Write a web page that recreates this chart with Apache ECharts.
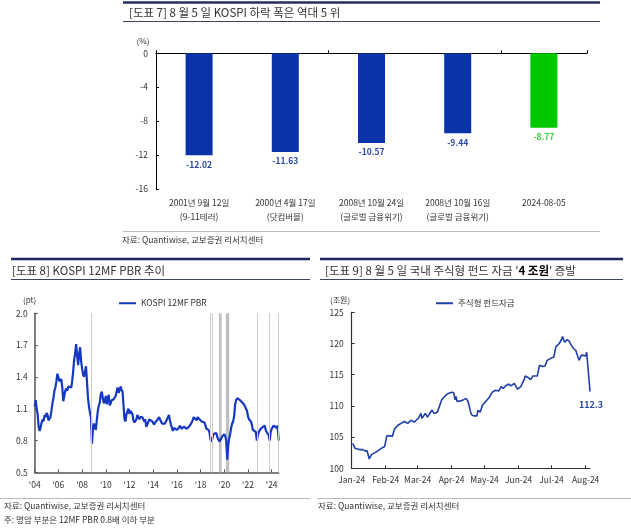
<!DOCTYPE html>
<html><head><meta charset="utf-8">
<script src="https://cdn.jsdelivr.net/npm/echarts@6/dist/echarts.min.js"></script>
<style>html,body{margin:0;padding:0;background:#fff}#c{width:631px;height:531px}</style>
</head><body><div id="c"></div>
<script>
// ---------- [도표 7] data ----------
const crashCategories = ['2001년 9월 12일\n(9-11테러)', '2000년 4월 17일\n(닷컴버블)', '2008년 10월 24일\n(글로벌 금융위기)', '2008년 10월 16일\n(글로벌 금융위기)', '2024-08-05'];
const crashValues = [-12.02, -11.63, -10.57, -9.44, -8.77];
const crashHighlight = '2024-08-05';

// ---------- [도표 8] data (monthly, from Jan 2004) ----------
const pbrStart = [2004, 1];
const pbrMonthly = [
  1.12, 1.18, 1.10, 1.05, 0.93, 0.89, 0.92, 0.97, 1.00, 0.98, 1.04, 1.02,
  1.06, 1.04, 0.99, 0.98, 1.02, 1.08, 1.15, 1.20, 1.27, 1.30, 1.36, 1.43,
  1.43, 1.36, 1.35, 1.38, 1.30, 1.17, 1.22, 1.27, 1.29, 1.27, 1.31, 1.30,
  1.32, 1.30, 1.36, 1.45, 1.56, 1.62, 1.71, 1.60, 1.51, 1.62, 1.68, 1.55,
  1.48, 1.42, 1.40, 1.45, 1.50, 1.35, 1.20, 1.12, 1.06, 1.02, 0.77, 0.90,
  0.96, 0.92, 0.90, 1.00, 1.08, 1.13, 1.16, 1.24, 1.26, 1.20, 1.15, 1.17,
  1.22, 1.14, 1.20, 1.23, 1.13, 1.15, 1.18, 1.17, 1.19, 1.20, 1.22, 1.26,
  1.30, 1.25, 1.27, 1.31, 1.28, 1.26, 1.27, 1.00, 0.98, 1.05, 1.06, 1.10,
  1.05, 1.08, 1.07, 1.05, 0.99, 0.97, 0.97, 1.00, 1.04, 1.02, 1.00, 1.02,
  1.03, 1.02, 1.00, 0.98, 1.00, 0.93, 0.95, 0.97, 1.00, 1.01, 0.99, 0.98,
  0.97, 0.95, 0.97, 0.98, 0.99, 0.98, 1.02, 1.01, 0.98, 0.96, 0.97, 0.95,
  0.96, 0.97, 1.00, 1.02, 1.04, 0.99, 0.95, 0.92, 0.89, 0.92, 0.93, 0.91,
  0.90, 0.89, 0.92, 0.94, 0.93, 0.91, 0.90, 0.93, 0.94, 0.93, 0.91, 0.90,
  0.92, 0.94, 0.95, 0.97, 0.99, 1.02, 1.03, 1.01, 0.99, 1.02, 1.03, 1.00,
  1.01, 0.98, 0.99, 0.97, 0.97, 0.94, 0.91, 0.91, 0.90, 0.88, 0.81, 0.79,
  0.82, 0.86, 0.87, 0.86, 0.87, 0.83, 0.84, 0.79, 0.79, 0.82, 0.84, 0.85,
  0.86, 0.84, 0.80, 0.62, 0.75, 0.82, 0.86, 0.92, 0.96, 0.98, 1.03, 1.14,
  1.18, 1.20, 1.19, 1.20, 1.18, 1.17, 1.16, 1.15, 1.14, 1.12, 1.10, 1.08,
  1.03, 1.00, 0.99, 0.98, 0.95, 0.90, 0.89, 0.90, 0.88, 0.80, 0.85, 0.88,
  0.90, 0.91, 0.92, 0.93, 0.92, 0.94, 0.90, 0.88, 0.87, 0.85, 0.80, 0.88,
  0.91, 0.92, 0.94, 0.95, 0.93, 0.92, 0.94, 0.80
];
const pbrLastDate = '2024-08-05';
const pbrShadeBands = [['2019-07-20', '2019-10-12'], ['2020-02-20', '2020-06-01']];
const pbrShadeLines = ['2008-10-02', '2018-11-06', '2018-12-28', '2022-10-12', '2023-10-19', '2024-08-05'];

// ---------- [도표 9] data ----------
const fundDates = ['2024-01-02','2024-01-04','2024-01-08','2024-01-11','2024-01-13','2024-01-15','2024-01-17','2024-01-19','2024-01-23','2024-01-28','2024-01-31',
  '2024-02-02','2024-02-05','2024-02-07','2024-02-09','2024-02-12','2024-02-15','2024-02-18','2024-02-21','2024-02-24','2024-02-27',
  '2024-03-02','2024-03-04','2024-03-05','2024-03-08','2024-03-10','2024-03-14','2024-03-16','2024-03-19','2024-03-23','2024-03-26','2024-03-29',
  '2024-04-01','2024-04-03','2024-04-04','2024-04-05','2024-04-06','2024-04-09','2024-04-12','2024-04-14','2024-04-16','2024-04-18','2024-04-19','2024-04-21','2024-04-24','2024-04-25','2024-04-27','2024-04-29',
  '2024-05-02','2024-05-05','2024-05-08','2024-05-11','2024-05-14','2024-05-16','2024-05-18','2024-05-20','2024-05-23','2024-05-25','2024-05-28','2024-05-31',
  '2024-06-03','2024-06-06','2024-06-07','2024-06-10','2024-06-12','2024-06-14','2024-06-18','2024-06-20','2024-06-23','2024-06-25','2024-06-27',
  '2024-07-01','2024-07-03','2024-07-05','2024-07-08','2024-07-10','2024-07-11','2024-07-13','2024-07-15','2024-07-17','2024-07-19','2024-07-21','2024-07-23','2024-07-24','2024-07-26','2024-07-28','2024-07-30',
  '2024-08-01','2024-08-02','2024-08-05'];
const fundValues = [104.0,103.2,103.0,103.0,102.8,102.8,101.5,102.2,102.6,103.2,103.5,
  105.2,105.2,105.1,106.3,106.9,107.2,107.5,107.2,107.7,107.4,
  108.1,108.8,108.0,108.8,108.2,109.3,108.8,109.0,111.0,111.6,112.0,
  112.2,112.1,111.0,111.5,110.7,110.8,111.0,111.2,110.7,109.2,108.6,108.4,108.4,109.3,109.0,110.1,
  110.7,111.3,112.2,112.5,112.4,113.1,112.8,113.2,113.5,113.2,113.6,112.7,
  113.1,114.2,114.8,114.5,114.2,114.8,114.8,116.5,116.3,116.4,117.3,
  117.7,117.8,119.5,120.0,120.6,121.1,120.2,120.6,120.4,119.7,119.2,118.9,119.1,117.3,118.1,118.1,
  118.0,118.6,112.3];
const monthNames = ['Jan','Feb','Mar','Apr','May','Jun','Jul','Aug','Sep','Oct','Nov','Dec'];

// ---------- helpers ----------
const FONT = '"Noto Sans CJK KR", "Noto Sans", sans-serif';
function decYear(s) {
  const d = new Date(s + 'T00:00:00Z');
  const y = d.getUTCFullYear();
  const a = Date.UTC(y, 0, 1), b = Date.UTC(y + 1, 0, 1);
  return y + (d.getTime() - a) / (b - a);
}
const pbrData = pbrMonthly.map((v, i) => {
  let ds;
  if (i === pbrMonthly.length - 1) ds = pbrLastDate;
  else {
    const m = pbrStart[1] - 1 + i;
    const y = pbrStart[0] + Math.floor(m / 12);
    ds = y + '-' + String(m % 12 + 1).padStart(2, '0') + '-01';
  }
  return [decYear(ds), v];
});
const fundData = fundDates.map((d, i) => [d, fundValues[i]]);

const BLUE_BAR = '#0a33a8', GREEN_BAR = '#00c800';
const barData = crashValues.map((v, i) => {
  const hi = crashCategories[i] === crashHighlight;
  return { value: v, itemStyle: { color: hi ? GREEN_BAR : BLUE_BAR },
           label: { color: hi ? '#3ccf3c' : '#2a48a8' } };
});

const axisTxt = { color: '#333', fontSize: 8.5, fontFamily: FONT };
const txt = (x, y, text, size, extra) => ({ type: 'text', silent: true,
  style: Object.assign({ x, y, text, font: size + 'px ' + FONT, fill: '#333', verticalAlign: 'middle', align: 'left' }, extra || {}) });
const hline = (x1, x2, y, color, w) => ({ type: 'line', silent: true,
  shape: { x1, y1: y, x2, y2: y }, style: { stroke: color, lineWidth: w } });

const chart = echarts.init(document.getElementById('c'), null, { renderer: 'canvas' });
chart.setOption({
  animation: false,
  backgroundColor: '#fff',
  textStyle: { fontFamily: FONT },
  grid: [
    { left: 156, top: 53.3, width: 431, height: 135.7 },
    { left: 34.7, top: 313.3, width: 244, height: 159 },
    { left: 351.7, top: 312.3, width: 238.3, height: 156 }
  ],
  legend: [
    { data: ['KOSPI 12MF PBR'], left: 114, top: 294, icon: 'rect', itemWidth: 17, itemHeight: 2, itemGap: 2,
      textStyle: { color: '#333', fontSize: 8.5, fontFamily: FONT } },
    { data: ['주식형 펀드자금'], left: 431, top: 294, icon: 'rect', itemWidth: 17, itemHeight: 2,
      textStyle: { color: '#333', fontSize: 8.5, fontFamily: FONT } }
  ],
  xAxis: [
    { gridIndex: 0, type: 'category', data: crashCategories, position: 'bottom',
      axisLine: { show: false }, axisTick: { show: false },
      axisLabel: Object.assign({ margin: 7, lineHeight: 14, interval: 0 }, axisTxt) },
    { gridIndex: 0, type: 'category', data: crashCategories, position: 'top',
      axisLine: { show: true, lineStyle: { color: '#000', width: 1 } },
      axisTick: { show: true, length: 3, lineStyle: { color: '#000' } },
      axisLabel: { show: false } },
    { gridIndex: 1, type: 'value', min: 2004, max: decYear(pbrLastDate), interval: 2,
      axisLine: { show: true, lineStyle: { color: '#555', width: 1.5 } },
      axisTick: { show: true, inside: true, length: 3, lineStyle: { color: '#555' } },
      splitLine: { show: false },
      axisLabel: Object.assign({ margin: 8, showMaxLabel: false,
        formatter: v => (Math.abs(v - Math.round(v)) < 1e-6 && Math.round(v) % 2 === 0) ? "'" + String(Math.round(v)).slice(2) : '' }, axisTxt) },
    { gridIndex: 2, type: 'time', min: '2024-01-01', max: '2024-08-05', splitNumber: 7,
      minInterval: 28 * 86400000, maxInterval: 31 * 86400000,
      axisLine: { show: true, lineStyle: { color: '#333', width: 1.2 } },
      axisTick: { show: true, inside: true, length: 3, lineStyle: { color: '#333' } },
      splitLine: { show: false },
      axisLabel: Object.assign({ margin: 7, hideOverlap: false,
        formatter: v => { const d = new Date(v); return monthNames[d.getMonth()] + '-' + String(d.getFullYear()).slice(2); } }, axisTxt) }
  ],
  yAxis: [
    { gridIndex: 0, type: 'value', min: -16, max: 0, interval: 4,
      axisLine: { show: true, lineStyle: { color: '#000' } },
      axisTick: { show: true, inside: true, length: 3, lineStyle: { color: '#000' } },
      splitLine: { show: false },
      axisLabel: Object.assign({ margin: 8 }, axisTxt) },
    { gridIndex: 1, type: 'value', min: 0.5, max: 2.0, interval: 0.3,
      axisLine: { show: true, lineStyle: { color: '#555', width: 1.5 } },
      axisTick: { show: true, inside: true, length: 3, lineStyle: { color: '#555' } },
      splitLine: { show: false },
      axisLabel: Object.assign({ margin: 7, formatter: v => v.toFixed(1) }, axisTxt) },
    { gridIndex: 2, type: 'value', min: 100, max: 125, interval: 5,
      axisLine: { show: true, lineStyle: { color: '#333', width: 1.2 } },
      axisTick: { show: true, inside: true, length: 3, lineStyle: { color: '#333' } },
      splitLine: { show: false },
      axisLabel: Object.assign({ margin: 8 }, axisTxt) }
  ],
  series: [
    { type: 'bar', xAxisIndex: 0, yAxisIndex: 0, data: barData, barWidth: 27,
      label: { show: true, position: 'bottom', distance: 5, fontSize: 8.5, fontWeight: 'bold', fontFamily: FONT,
        formatter: p => p.value.toFixed(2) } },
    { type: 'line', name: 'KOSPI 12MF PBR', xAxisIndex: 2, yAxisIndex: 1, data: pbrData,
      showSymbol: false, symbol: 'none', lineStyle: { color: '#1538c0', width: 2.2 }, itemStyle: { color: '#1538c0' },
      markArea: { silent: true, itemStyle: { color: '#bfbfbf' },
        data: pbrShadeBands.map(b => [{ xAxis: decYear(b[0]) }, { xAxis: decYear(b[1]) }]) },
      markLine: { silent: true, symbol: 'none', label: { show: false },
        lineStyle: { color: '#cccccc', width: 1, type: 'solid' },
        data: pbrShadeLines.map(d => ({ xAxis: decYear(d) })) } },
    { type: 'line', name: '주식형 펀드자금', xAxisIndex: 3, yAxisIndex: 2, data: fundData,
      showSymbol: false, symbol: 'none', lineStyle: { color: '#1f3fa8', width: 1.6 }, itemStyle: { color: '#1f3fa8' },
      endLabel: { show: true, formatter: p => p.value[1].toFixed(1), color: '#2a48a8', fontSize: 9, fontWeight: 'bold',
        fontFamily: FONT, distance: 0, align: 'center', offset: [1, 13] } }
  ],
  graphic: [
    hline(123, 600, 2.5, '#26305e', 2.5),
    txt(129, 12.5, '[도표 7] 8 월 5 일 KOSPI 하락 폭은 역대 5 위', 11.5),
    hline(123, 600, 21.5, '#3a4560', 1),
    txt(143, 40.5, '(%)', 8, { align: 'center' }),
    hline(123, 600, 231.5, '#bbbbbb', 1),
    txt(122, 240, '자료: Quantiwise, 교보증권 리서치센터', 8.5),

    hline(11, 310, 259, '#1c2660', 2.5),
    txt(12, 270.5, '[도표 8] KOSPI 12MF PBR 추이', 11.5),
    hline(11, 310, 279.5, '#3a4560', 1),
    txt(23, 300, '(pt)', 8),
    hline(0, 310, 498.5, '#bbbbbb', 1),
    txt(4, 505.5, '자료: Quantiwise, 교보증권 리서치센터', 8.5),
    txt(4, 519.5, '주: 명암 부분은 12MF PBR 0.8배 이하 부분', 8.5),

    hline(320, 623, 259, '#1c2660', 2.5),
    { type: 'text', silent: true, style: { x: 325, y: 270.5, verticalAlign: 'middle',
      text: "{a|[도표 9] 8 월 5 일 국내 주식형 펀드 자금 '}{b|4 조원}{a|' 증발}",
      rich: { a: { fontSize: 11.5, fontFamily: FONT, fill: '#333', color: '#333' },
              b: { fontSize: 11.5, fontFamily: FONT, fontWeight: 'bold', fill: '#000', color: '#000' } } } },
    hline(320, 623, 279.5, '#3a4560', 1),
    txt(330, 300, '(조원)', 8),
    hline(317, 631, 498.5, '#bbbbbb', 1),
    txt(318, 505.5, '자료: Quantiwise, 교보증권 리서치센터', 8.5)
  ]
});
</script></body></html>
